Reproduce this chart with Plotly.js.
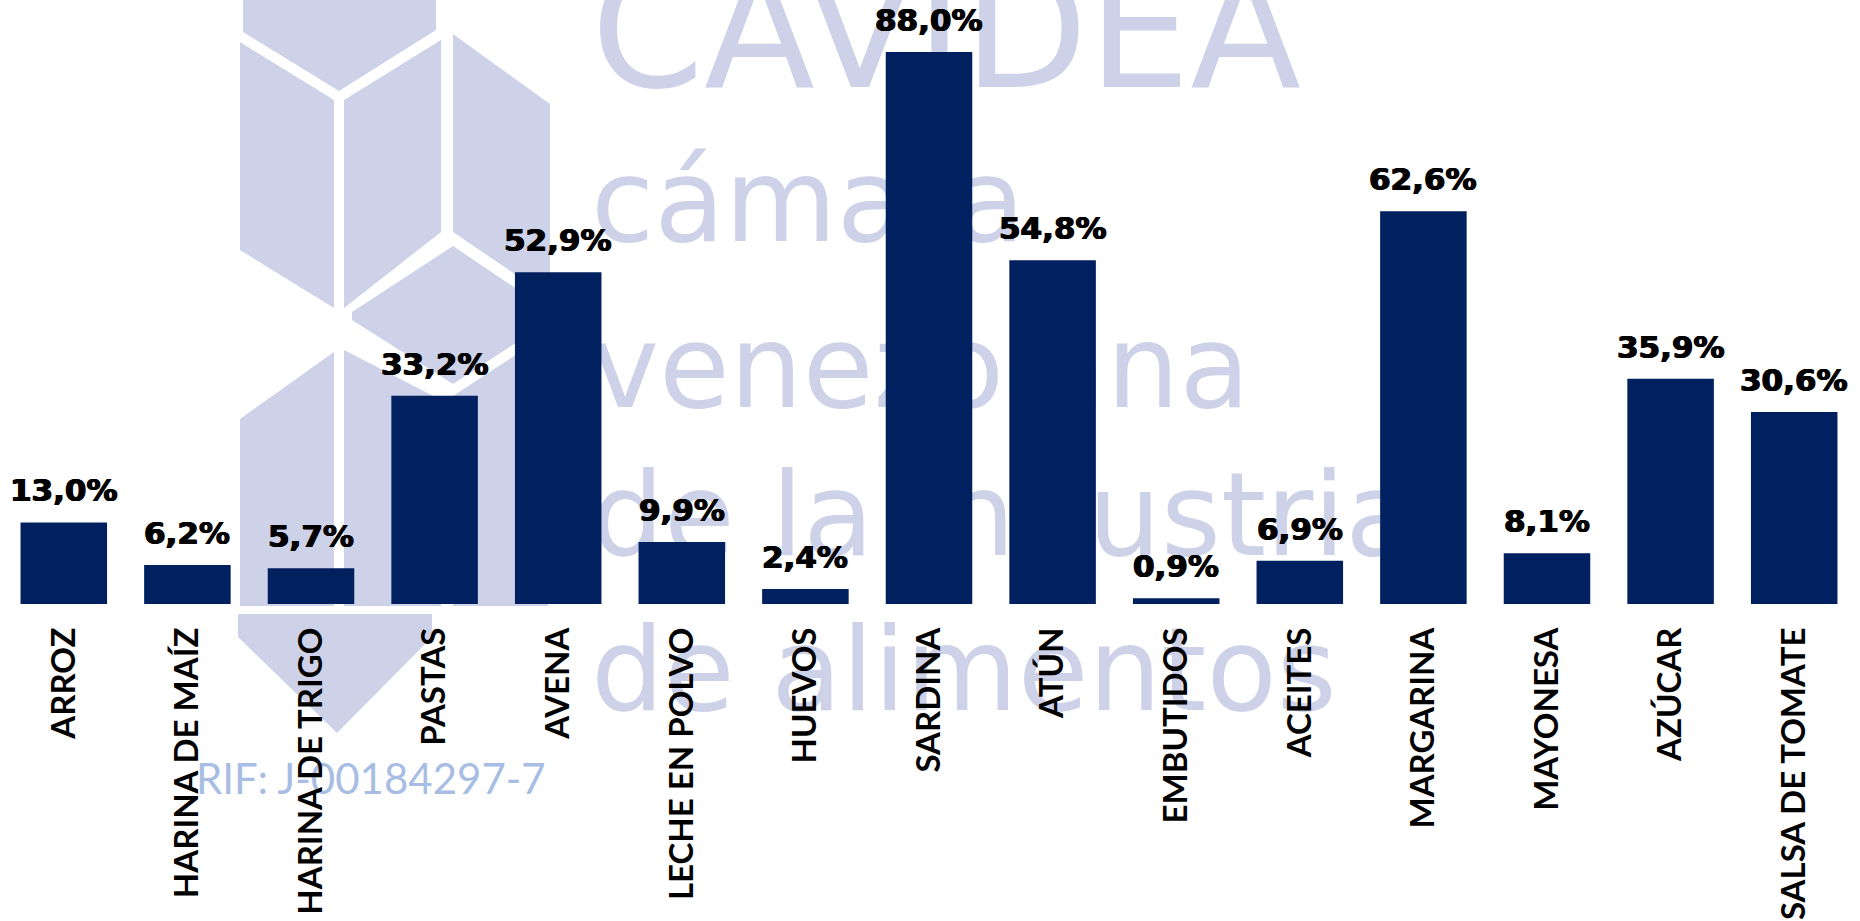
<!DOCTYPE html>
<html>
<head>
<meta charset="utf-8">
<script src="https://cdn.plot.ly/plotly-3.0.1.min.js"></script>
<style>
  html, body { margin: 0; padding: 0; background: #ffffff; }
  #chart { width: 1860px; height: 921px; }
</style>
</head>
<body>
<div id="chart"></div>
<script>
// ---- Data ----
const categories = [
  "ARROZ", "HARINA DE MAÍZ", "HARINA DE TRIGO", "PASTAS", "AVENA",
  "LECHE EN POLVO", "HUEVOS", "SARDINA", "ATÚN", "EMBUTIDOS",
  "ACEITES", "MARGARINA", "MAYONESA", "AZÚCAR", "SALSA DE TOMATE"
];
const values = [13.0, 6.2, 5.7, 33.2, 52.9, 9.9, 2.4, 88.0, 54.8, 0.9, 6.9, 62.6, 8.1, 35.9, 30.6];
const valueLabels = values.map(v => v.toFixed(1).replace('.', ',') + '%');

const watermarkTitle = "CAVIDEA";
const watermarkLines = ["cámara", "venezolana", "de la industria", "de alimentos"];
const rifText = "RIF: J-00184297-7";

// ---- Layout geometry ----
const W = 1860, H = 921;
const M = { l: 2, r: 4, t: 0, b: 317 };
const PW = W - M.l - M.r, PH = H - M.t - M.b;
const px = x => (x - M.l) / PW;          // pixel -> paper x
const py = y => 1 - (y - M.t) / PH;       // pixel -> paper y

const LAV = '#ced2e8';
const NAVY = '#002060';

// Watermark logo (decoration), drawn below the bars
const logoPolys = [
  [[243,0],[436,0],[436,30],[339,91],[243,32]],
  [[240,42],[334,100],[334,308],[240,250]],
  [[344,100],[441,40],[441,232],[344,308]],
  [[453,34],[550,104],[550,298],[453,232]],
  [[453,246],[548,310],[548,322],[453,384],[352,320],[352,312]],
  [[240,419],[334,352],[334,606],[240,606]],
  [[344,350],[441,400],[441,606],[344,606]],
  [[453,396],[548,334],[548,606],[453,606]],
  [[238,614],[432,614],[432,637],[337,733],[238,637]]
];
const shapes = logoPolys.map(poly => ({
  type: 'path', xref: 'paper', yref: 'paper', layer: 'below',
  path: 'M ' + poly.map(p => px(p[0]).toFixed(5) + ',' + py(p[1]).toFixed(5)).join(' L ') + ' Z',
  fillcolor: LAV, line: { width: 0 }
}));

function textShape(txt, x, baseline, size, color, family) {
  const yBottom = baseline + 0.147 * size;
  return {
    type: 'rect', xref: 'paper', yref: 'paper', layer: 'below',
    x0: px(x), x1: px(x + 1), y0: py(yBottom), y1: py(yBottom - 1),
    line: { width: 0 }, fillcolor: 'rgba(0,0,0,0)',
    label: {
      text: txt, textposition: 'bottom left', xanchor: 'left', yanchor: 'bottom',
      padding: 0, font: { family: family, size: size, color: color }
    }
  };
}
const wmFont = '"DejaVu Sans", Verdana, sans-serif';
shapes.push(textShape(watermarkTitle, 588, 89, 162, LAV, wmFont));
const wmBaselines = [243, 409, 557, 712];
watermarkLines.forEach((t, i) => shapes.push(textShape(t, 588, wmBaselines[i], 115, LAV, wmFont)));
shapes.push(textShape(rifText, 193, 796, 42, '#a8bde3', 'Lato, "Open Sans", sans-serif'));

// Value labels above bars
const annotations = categories.map((c, i) => ({
  x: c, y: values[i], xref: 'x', yref: 'y',
  text: valueLabels[i], showarrow: false,
  xanchor: 'center', yanchor: 'bottom', yshift: 12,
  font: {
    family: '"DejaVu Sans", Arial, sans-serif', size: 31, color: '#000000', weight: 'bold',
    shadow: '0.7px 0 0 #000, -0.7px 0 0 #000'
  }
}));

const trace = {
  type: 'bar', x: categories, y: values,
  marker: { color: NAVY, line: { width: 0 } },
  hoverinfo: 'x+y', cliponaxis: false
};

const layout = {
  width: W, height: H,
  margin: M,
  paper_bgcolor: '#ffffff', plot_bgcolor: 'rgba(0,0,0,0)',
  showlegend: false,
  bargap: 0.3,
  xaxis: {
    type: 'category', tickangle: -90, showgrid: false, zeroline: false,
    showline: false, ticks: '', ticklabelstandoff: 16,
    tickfont: { family: 'Lato, "Open Sans", sans-serif', size: 33, color: '#000000', weight: 'bold' },
    automargin: false
  },
  yaxis: {
    range: [0, 96.3], visible: false, showgrid: false, zeroline: false, fixedrange: true
  },
  shapes: shapes,
  annotations: annotations
};

Plotly.newPlot('chart', [trace], layout, { displayModeBar: false, staticPlot: true });
</script>
</body>
</html>
